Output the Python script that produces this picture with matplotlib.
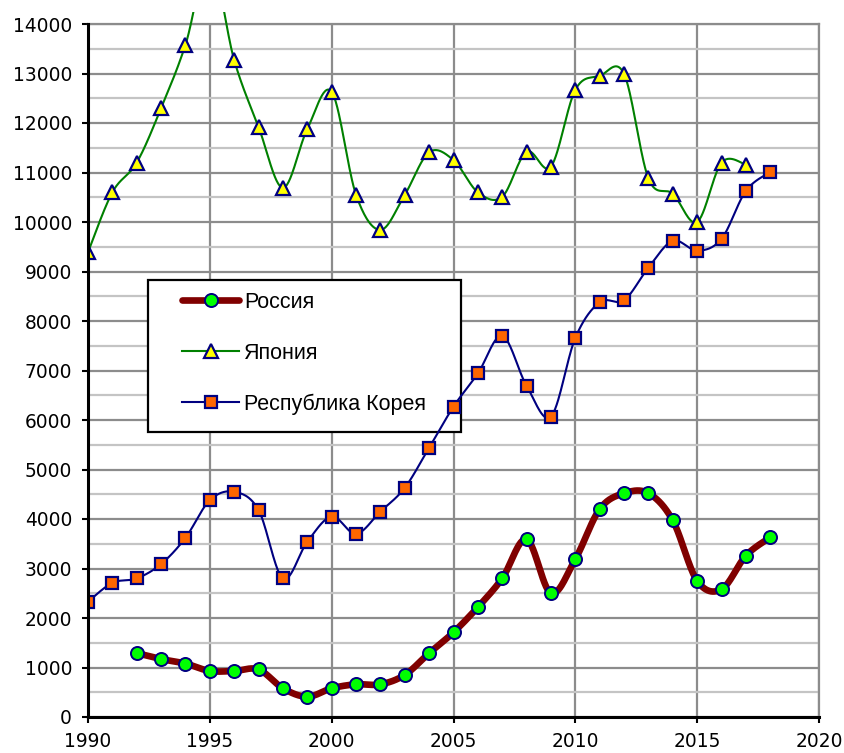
import numpy as np
import matplotlib
matplotlib.use("Agg")
import matplotlib.pyplot as plt
from matplotlib.patches import Rectangle

years_jp = list(range(1990, 2018))
japan = [9390, 10600, 11200, 12300, 13580, 15300, 13270, 11920, 10690, 11880,
         12630, 10550, 9840, 10550, 11410, 11250, 10600, 10510, 11420, 11120,
         12670, 12950, 12990, 10880, 10570, 10000, 11200, 11160]

years_kr = list(range(1990, 2019))
korea = [2330, 2710, 2800, 3090, 3620, 4380, 4550, 4180, 2800, 3540,
         4050, 3700, 4150, 4630, 5440, 6270, 6940, 7700, 6690, 6070,
         7660, 8380, 8420, 9080, 9620, 9420, 9660, 10630, 11010]

years_ru = list(range(1992, 2019))
russia = [1290, 1170, 1080, 930, 930, 960, 580, 410, 580, 660,
          660, 850, 1290, 1710, 2220, 2800, 3590, 2500, 3190, 4200,
          4520, 4520, 3970, 2750, 2580, 3260, 3630]

labels = ["Россия", "Япония", "Республика Корея"]
x_ticks = [1990, 1995, 2000, 2005, 2010, 2015, 2020]
y_ticks = list(range(0, 14001, 1000))


def smooth(x, y, n=30):
    """Excel-like smoothing: cubic Bezier with Catmull-Rom control points."""
    x = np.asarray(x, float)
    y = np.asarray(y, float)
    P = np.column_stack([x, y])
    out = []
    m = len(P)
    for i in range(m - 1):
        p0 = P[i - 1] if i > 0 else P[i]
        p1 = P[i]
        p2 = P[i + 1]
        p3 = P[i + 2] if i + 2 < m else P[i + 1]
        c1 = p1 + (p2 - p0) / 6.0
        c2 = p2 - (p3 - p1) / 6.0
        t = np.linspace(0, 1, n, endpoint=(i == m - 2))[:, None]
        seg = ((1 - t) ** 3) * p1 + 3 * ((1 - t) ** 2) * t * c1 + 3 * (1 - t) * t ** 2 * c2 + t ** 3 * p2
        out.append(seg)
    out = np.vstack(out)
    return out[:, 0], out[:, 1]


plt.rcParams['font.family'] = ['DejaVu Sans']
W, H = 844, 753
fig = plt.figure(figsize=(W / 100, H / 100), dpi=100)
ax = fig.add_axes([88 / W, 1 - 717 / H, 731 / W, 693 / H])

ax.set_xlim(1990, 2020)
ax.set_ylim(0, 14000)

# grid
ax.set_yticks(y_ticks)
ax.set_yticks(list(range(500, 14000, 1000)), minor=True)
ax.set_xticks(x_ticks)
ax.grid(True, which='major', axis='both', color='#8c8c8c', lw=1.6, zorder=0)
ax.grid(True, which='minor', axis='y', color='#c4c4c4', lw=1.6, zorder=0)
ax.tick_params(axis='y', which='minor', length=0)
ax.tick_params(axis='both', which='major', direction='out', length=4.5, width=1.5,
               colors='black', labelsize=13.4)
ax.tick_params(axis='y', which='major', pad=7)
ax.tick_params(axis='x', which='major', pad=6)
ax.set_axisbelow(True)

for s in ['left', 'bottom']:
    ax.spines[s].set_color('black')
    ax.spines[s].set_linewidth(2.2)
    ax.spines[s].set_zorder(6)
for s in ['top', 'right']:
    ax.spines[s].set_color('#8c8c8c')
    ax.spines[s].set_linewidth(1.6)

clip = Rectangle((0, 0), 1, 1.017, transform=ax.transAxes, fill=False, visible=False)
ax.add_patch(clip)

# legend frame (white box over grid, under series)
def fx(px):
    return px / W

def fy(py):
    return 1 - py / H

frame = Rectangle((fx(148), fy(432)), fx(461) - fx(148), fy(280) - fy(432),
                  transform=fig.transFigure, facecolor='white', edgecolor='black',
                  lw=1.6, zorder=2)
ax.add_patch(frame)
frame.set_clip_on(False)

navy = '#000080'
MS_O, MS_T, MS_S = 9.4, 10.2, 9.0
# Russia
sx, sy = smooth(years_ru, russia)
ax.plot(sx, sy, color='#800000', lw=4.8, solid_capstyle='round', zorder=3)
ax.plot(years_ru, russia, ls='none', marker='o', ms=MS_O, mfc='#00ff00', mec=navy, mew=1.4, zorder=4)
# Japan
sx, sy = smooth(years_jp, japan)
l2, = ax.plot(sx, sy, color='#008000', lw=1.5, zorder=3)
l2.set_clip_path(clip)
ax.plot(years_jp, japan, ls='none', marker='^', ms=MS_T, mfc='#ffff00', mec=navy, mew=1.6, zorder=4)
# Korea
sx, sy = smooth(years_kr, korea)
ax.plot(sx, sy, color=navy, lw=1.5, zorder=3)
ax.plot(years_kr, korea, ls='none', marker='s', ms=MS_S, mfc='#ff6600', mec=navy, mew=1.6, zorder=4)

h1 = plt.Line2D([], [], color='#800000', lw=4.8, solid_capstyle='round', marker='o', ms=MS_O,
                mfc='#00ff00', mec=navy, mew=1.4)
h2 = plt.Line2D([], [], color='#008000', lw=1.5, marker='^', ms=MS_T, mfc='#ffff00', mec=navy, mew=1.6)
h3 = plt.Line2D([], [], color=navy, lw=1.5, marker='s', ms=MS_S, mfc='#ff6600', mec=navy, mew=1.6)

leg = ax.legend([h1, h2, h3], labels, loc='upper left',
                bbox_to_anchor=(fx(182), fy(292)), bbox_transform=fig.transFigure,
                prop={'family': 'Liberation Sans', 'size': 15.5},
                frameon=False, borderpad=0, labelspacing=1.38, handlelength=2.65,
                handletextpad=0.25, borderaxespad=0)
leg.set_zorder(2.5)

fig.savefig('out.png', dpi=100)
